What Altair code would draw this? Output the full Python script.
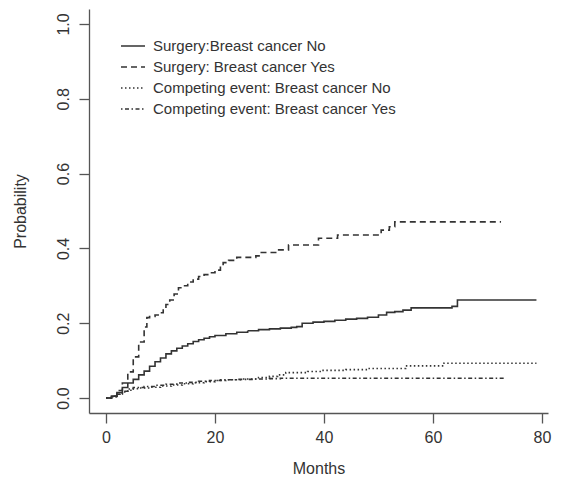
import altair as alt
import pandas as pd

series_names = [
    "Surgery:Breast cancer No",
    "Surgery: Breast cancer Yes",
    "Competing event: Breast cancer No",
    "Competing event: Breast cancer Yes",
]

t_surg_no = [0, 1, 2, 3, 4, 5, 6, 7, 8, 9, 10, 11, 12, 13, 14, 15, 16, 17, 18, 19, 20,
             22, 24, 26, 28, 30, 32, 34, 35, 36, 38, 40, 42, 44, 46, 48, 50, 51.5, 53,
             54.5, 56, 63.5, 64.5, 79]
p_surg_no = [0, 0.005, 0.015, 0.028, 0.04, 0.05, 0.062, 0.072, 0.085, 0.097, 0.107, 0.118,
             0.126, 0.133, 0.139, 0.145, 0.151, 0.156, 0.160, 0.164, 0.167, 0.172, 0.176,
             0.180, 0.183, 0.185, 0.187, 0.189, 0.191, 0.200, 0.203, 0.205, 0.208, 0.211,
             0.213, 0.216, 0.222, 0.229, 0.231, 0.235, 0.241, 0.245, 0.262, 0.262]

t_surg_yes = [0, 1, 2, 3, 4, 5, 6, 7, 7.5, 8, 9, 10, 10.5, 11, 11.7, 12.5, 13.3, 14, 15, 16,
              17, 18, 19, 20, 21, 21.5, 22.5, 24, 27.5, 28.5, 31.5, 33.5, 39, 42.5, 50.5,
              52, 53, 72.5]
p_surg_yes = [0, 0.005, 0.02, 0.04, 0.07, 0.11, 0.15, 0.19, 0.215, 0.218, 0.222, 0.228,
              0.24, 0.25, 0.262, 0.278, 0.295, 0.30, 0.31, 0.318, 0.325, 0.33, 0.335, 0.342,
              0.355, 0.362, 0.368, 0.376, 0.38, 0.389, 0.396, 0.409, 0.427, 0.436, 0.449,
              0.458, 0.471, 0.471]

t_comp_no = [0, 1, 2, 3, 4, 5, 6, 8, 10, 12, 14, 16, 18, 20, 22, 25, 28, 30, 31.5, 33, 37,
             39.5, 44, 48, 55, 62, 79]
p_comp_no = [0, 0.004, 0.01, 0.016, 0.021, 0.025, 0.027, 0.029, 0.032, 0.035, 0.038, 0.041,
             0.044, 0.047, 0.049, 0.051, 0.055, 0.058, 0.062, 0.068, 0.071, 0.074, 0.076,
             0.079, 0.086, 0.093, 0.093]

t_comp_yes = [0, 1, 2, 3, 4, 5, 7, 9, 11, 13, 15, 17, 19, 21, 24, 27, 30, 32, 73]
p_comp_yes = [0, 0.003, 0.01, 0.018, 0.024, 0.028, 0.031, 0.034, 0.037, 0.04, 0.042, 0.045,
              0.047, 0.049, 0.05, 0.051, 0.052, 0.053, 0.053]

x_ticks = [0, 20, 40, 60, 80]
y_ticks = [0.0, 0.2, 0.4, 0.6, 0.8, 1.0]

rows = []
for name, ts, ps in zip(series_names,
                        [t_surg_no, t_surg_yes, t_comp_no, t_comp_yes],
                        [p_surg_no, p_surg_yes, p_comp_no, p_comp_yes]):
    for t, p in zip(ts, ps):
        rows.append({"series": name, "t": t, "p": p})
df = pd.DataFrame(rows)

FONT = "Liberation Sans"
TXT = "#333333"
AX = "#555555"
FS = 16

chart = alt.Chart(df).mark_line(
    interpolate="step-after", color="#333333", strokeWidth=1.6
).encode(
    x=alt.X("t:Q",
            scale=alt.Scale(domain=[-3.12, 81.12], nice=False, zero=False),
            axis=alt.Axis(values=x_ticks, title="Months", grid=False,
                          format="d", tickSize=10, labelPadding=6,
                          labelFontSize=FS, labelFont=FONT, labelColor=TXT,
                          titleFontSize=FS, titleFont=FONT, titleColor=TXT,
                          titleFontWeight="normal",
                          titleX=229.5, titleY=55, titleBaseline="middle",
                          titleAlign="center",
                          domainColor=AX, tickColor=AX, domainWidth=1.3, tickWidth=1.3)),
    y=alt.Y("p:Q",
            scale=alt.Scale(domain=[-0.04, 1.04], nice=False, zero=False),
            axis=alt.Axis(values=y_ticks, title="Probability", grid=False,
                          format=".1f", tickSize=10, labelPadding=8,
                          labelAngle=-90, labelAlign="center", labelBaseline="bottom",
                          labelFontSize=FS, labelFont=FONT, labelColor=TXT,
                          titleFontSize=FS, titleFont=FONT, titleColor=TXT,
                          titleFontWeight="normal",
                          titleX=-69, titleY=202, titleBaseline="middle",
                          titleAlign="center", titleAngle=-90,
                          domainColor=AX, tickColor=AX, domainWidth=1.3, tickWidth=1.3)),
    strokeDash=alt.StrokeDash(
        "series:N",
        scale=alt.Scale(domain=series_names,
                        range=[[1, 0], [6, 4], [1.5, 2.5], [1.5, 2.5, 4, 2.5]]),
        legend=alt.Legend(orient="none", legendX=31, legendY=24, title=None,
                          symbolType="stroke", symbolSize=576,
                          symbolStrokeWidth=1.6, symbolStrokeColor="#333333",
                          labelFontSize=15, labelFont=FONT, labelColor=TXT,
                          labelLimit=500, rowPadding=-4, labelOffset=7),
    ),
).properties(
    width=459, height=404,
    autosize=alt.AutoSizeParams(type="none"),
    padding={"left": 81, "top": 1, "right": 9, "bottom": 78},
).configure_view(stroke=None)

chart.save("out.html", embed_options={"renderer": "svg", "actions": False})
